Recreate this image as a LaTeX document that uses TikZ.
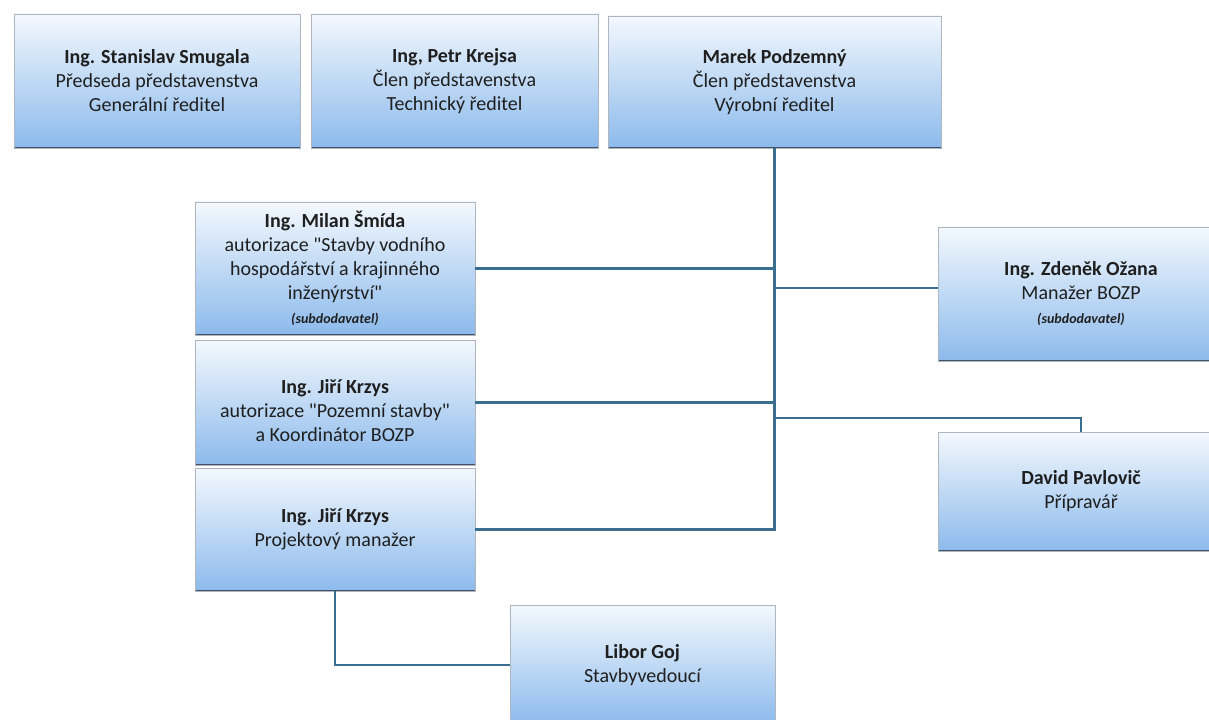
\documentclass[tikz,border=0pt]{standalone}
\usepackage{fontspec}
\setmainfont{Carlito}[Ligatures=TeXOff]

\definecolor{boxtop}{RGB}{243,248,253}
\definecolor{boxbot}{RGB}{140,186,236}
\definecolor{boxrim}{RGB}{175,182,192}
\definecolor{boxedge}{RGB}{66,82,104}
\definecolor{linkcol}{RGB}{58,110,142}

\tikzset{
  orgbox/.style={rectangle, draw=boxrim, line width=0.6pt, top color=boxtop, bottom color=boxbot,
    align=center, inner sep=0pt, text=black!88, font=\fontsize{15}{18}\selectfont,
    path picture={\draw[boxedge, line width=2.2pt] (path picture bounding box.south west) -- (path picture bounding box.south east);}},
  link/.style={draw=linkcol, line width=2.1pt},
}
\newcommand{\subdod}{{\fontsize{10.5}{13}\selectfont\bfseries\itshape (subdodavatel)}}

\begin{document}
\begin{tikzpicture}[x=0.75pt,y=0.75pt,yscale=-1,xscale=1]
\useasboundingbox (0,0) rectangle (1209,720);
\fill[white] (0,0) rectangle (1209,720);
\clip (0,0) rectangle (1209,720);

%Shape: Rectangle [top row]
\node[orgbox, minimum width=214.5pt, minimum height=100.5pt] (smugala) at (157,81)
  {\textbf{Ing. Stanislav Smugala}\\Předseda představenstva\\Generální ředitel};
\node[orgbox, minimum width=215.25pt, minimum height=100.5pt] (krejsa) at (454.5,81)
  {\textbf{Ing, Petr Krejsa}\\Člen představenstva\\Technický ředitel};
\node[orgbox, minimum width=249.75pt, minimum height=99pt] (podzemny) at (774.5,82)
  {\textbf{Marek Podzemný}\\Člen představenstva\\Výrobní ředitel};

%Shape: Rectangle [left column]
\node[orgbox, minimum width=210pt, minimum height=99.75pt] (milan) at (335,268.5)
  {\textbf{Ing. Milan Šmída}\\autorizace "Stavby vodního\\hospodářství a krajinného\\inženýrství"\\\subdod};
\node[orgbox, minimum width=210pt, minimum height=93.75pt] (krzysa) at (335,402.5)
  {\mbox{}\\[5pt]\textbf{Ing. Jiří Krzys}\\autorizace "Pozemní stavby"\\a Koordinátor BOZP};
\node[orgbox, minimum width=210pt, minimum height=92.25pt] (krzysb) at (335,529.5)
  {\textbf{Ing. Jiří Krzys}\\Projektový manažer};

%Shape: Rectangle [right column]
\node[orgbox, minimum width=214.5pt, minimum height=100.5pt] (ozana) at (1081,294)
  {\textbf{Ing. Zdeněk Ožana}\\Manažer BOZP\\\subdod};
\node[orgbox, minimum width=214.5pt, minimum height=89.25pt] (pavlovic) at (1081,491.5)
  {\textbf{David Pavlovič}\\Přípravář};

%Shape: Rectangle [bottom]
\node[orgbox, minimum width=198.75pt, minimum height=90pt] (libor) at (642.5,665)
  {\textbf{Libor Goj}\\Stavbyvedoucí};

%Straight Lines
\coordinate (tb) at (podzemny.south |- krzysb.east);
\coordinate (jo) at (774.5,288);
\coordinate (jp) at (774.5,418);
\draw[link] (podzemny.south) -- (tb) -- (krzysb.east);
\draw[link] (milan.east) -- (milan.east -| tb);
\draw[link] (krzysa.east) -- (krzysa.east -| tb);
\draw[link] (jo) -- (jo -| ozana.west);
\draw[link] (jp) -| (pavlovic.north);
\draw[link] (krzysb.south) |- (libor.west);

\end{tikzpicture}
\end{document}
